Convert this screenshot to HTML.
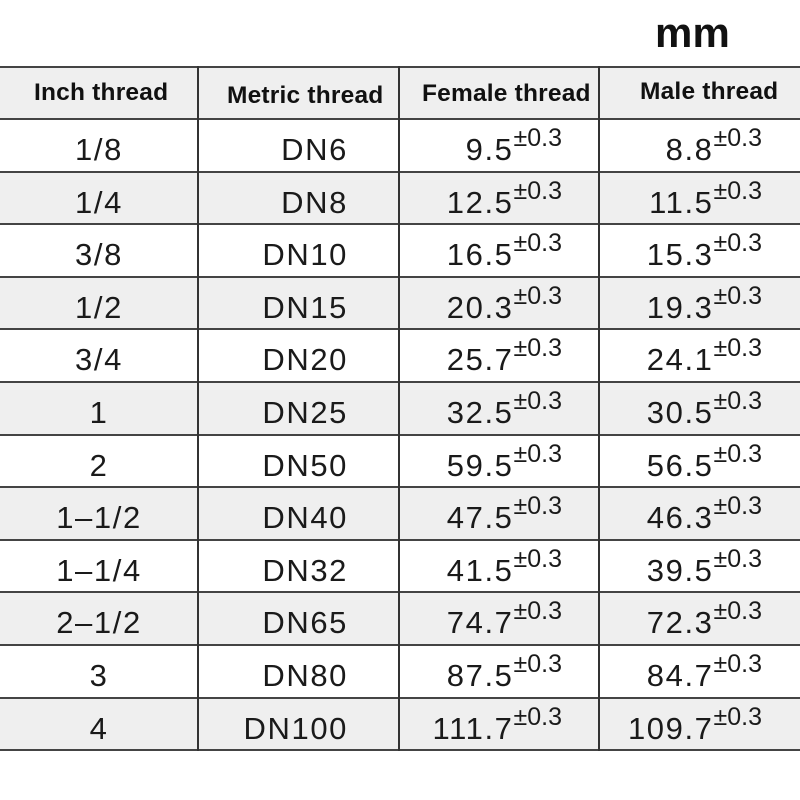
<!DOCTYPE html>
<html><head><style>
body{margin:0;width:800px;height:800px;background:#fff;position:relative;overflow:hidden;font-family:"Liberation Sans",Arial,sans-serif;color:#111}
.r{position:absolute;left:0;width:800px;border-top:2px solid #444;box-sizing:border-box}
.g{background:#efefef}
.v{position:absolute;top:66px;height:685px;width:2px;background:#333}
.t{position:absolute;font-size:31px;letter-spacing:1.6px;line-height:30px;white-space:nowrap;color:#1a1a1a}
.h{position:absolute;font-size:24.5px;font-weight:bold;white-space:nowrap;line-height:24px;letter-spacing:0.2px}
sup{font-size:25px;letter-spacing:0;position:relative;top:-9px;vertical-align:top;line-height:25px}
</style></head><body>
<div class="h" style="left:655px;top:12px;font-size:42px;line-height:42px">mm</div>
<div class="r g" style="top:66px;height:53px"></div>
<div id="rows"></div>
<div class="r" style="top:749px;height:2px"></div>
<div class="v" style="left:197px"></div>
<div class="v" style="left:398px"></div>
<div class="v" style="left:598px"></div>
<div class="h" style="left:34px;top:81px">Inch thread</div>
<div class="h" style="left:227px;top:84px">Metric thread</div>
<div class="h" style="left:422px;top:82px">Female thread</div>
<div class="h" style="left:640px;top:80px">Male thread</div>
<script>
var d=[["1/8","DN6","9.5","8.8"],["1/4","DN8","12.5","11.5"],["3/8","DN10","16.5","15.3"],["1/2","DN15","20.3","19.3"],["3/4","DN20","25.7","24.1"],["1","DN25","32.5","30.5"],["2","DN50","59.5","56.5"],["1-1/2","DN40","47.5","46.3"],["1-1/4","DN32","41.5","39.5"],["2-1/2","DN65","74.7","72.3"],["3","DN80","87.5","84.7"],["4","DN100","111.7","109.7"]];
var h="";
for(var i=0;i<12;i++){var y=118+i*52.6;
h+='<div class="r'+(i%2?' g':'')+'" style="top:'+y+'px;height:53px"></div>';
var ty=y+17;
h+='<div class="t" style="left:0;width:198px;text-align:center;top:'+ty+'px">'+d[i][0].replace(/-/g,'–')+'</div>';
h+='<div class="t" style="right:452px;top:'+ty+'px">'+d[i][1]+'</div>';
h+='<div class="t" style="right:238px;top:'+ty+'px">'+d[i][2]+'<sup>±0.3</sup></div>';
h+='<div class="t" style="right:38px;top:'+ty+'px">'+d[i][3]+'<sup>±0.3</sup></div>';}
document.getElementById('rows').outerHTML=h;
</script>
</body></html>
